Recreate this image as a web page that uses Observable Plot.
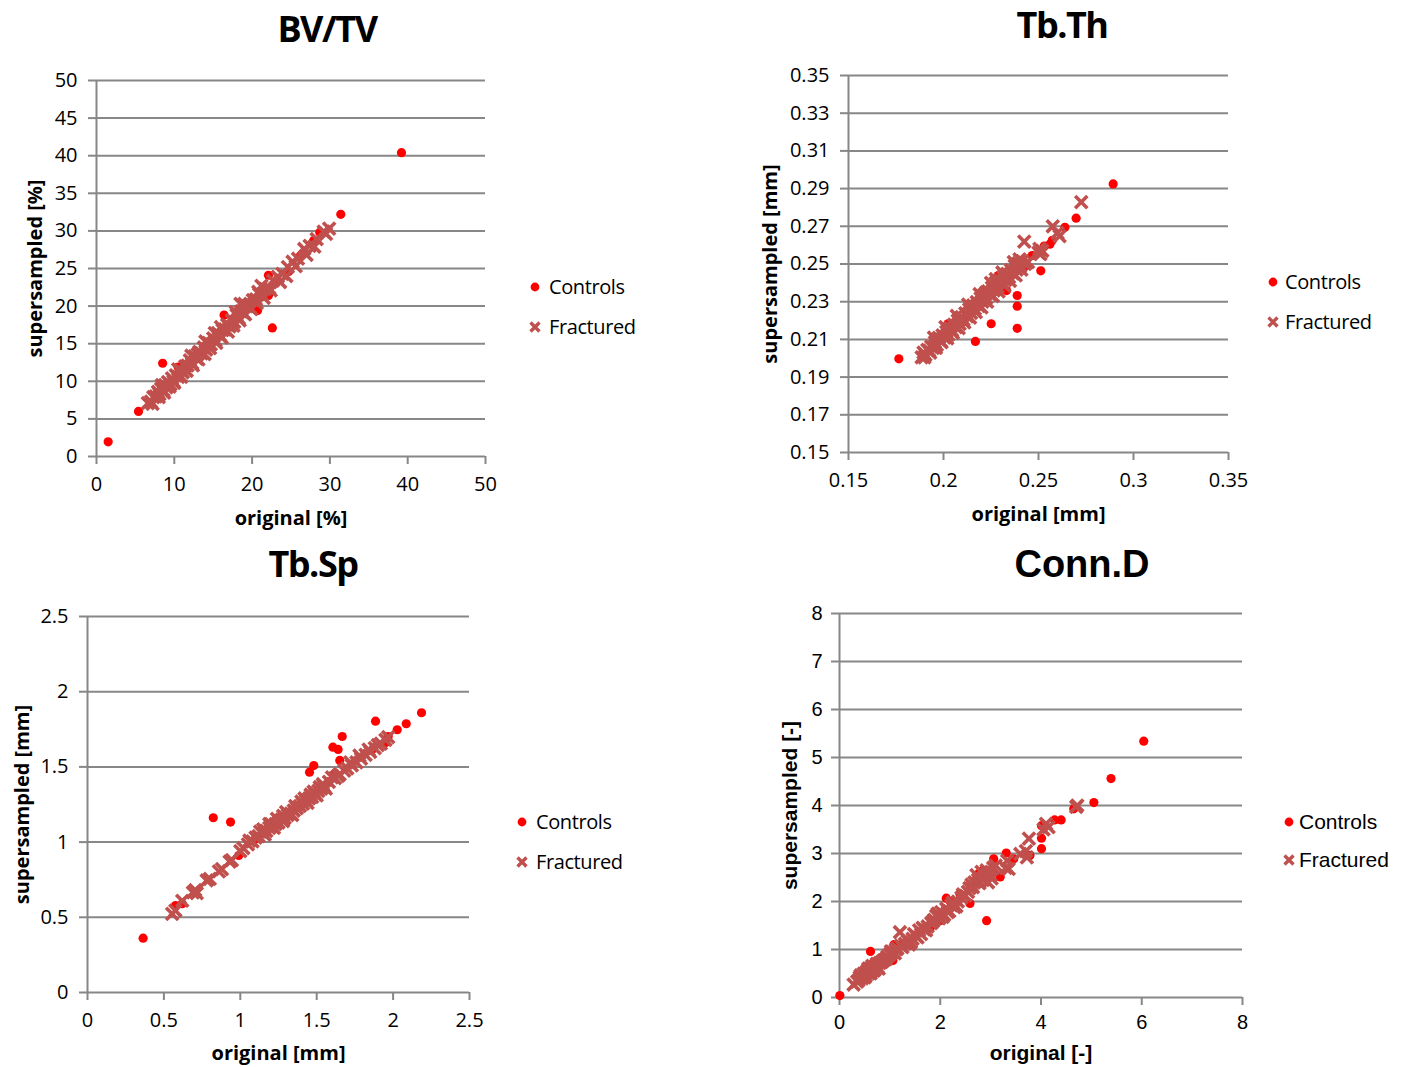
<!DOCTYPE html>
<html><head><meta charset="utf-8">
<script src="https://cdn.jsdelivr.net/npm/d3@7"></script>
<script src="https://cdn.jsdelivr.net/npm/@observablehq/plot@0.6"></script>
<style>
body{margin:0;background:#fff;}
#root{position:relative;width:1406px;height:1067px;overflow:hidden;background:#fff;}
.title{position:absolute;font-weight:bold;transform:translate(-50%,-50%);white-space:nowrap;color:#000;line-height:1.2;}
.leg{position:absolute;color:#000;white-space:nowrap;line-height:1.2;transform:translateY(-50%);}
.sym{position:absolute;overflow:visible;}
</style>
</head><body><div id="root"></div>
<script>
// ---------- BV/TV ----------
const bvtvXTicks=[0,10,20,30,40,50];
const bvtvYTicks=[0,5,10,15,20,25,30,35,40,45,50];
const bvtvControls=[[1.5,1.95],[39.2,40.4],[31.4,32.2],[5.4,6.0],[8.5,12.4],[10.5,11.9],[16.4,18.8],[20.7,19.4],[22.6,17.1],[22.1,24.1],[22.1,21.4],[23.1,23.2],[24.7,24.6],[27.9,28.7],[26.2,26.7],[28.7,29.8],[12.0,12.3],[14.6,15.2],[17.5,17.9],[19.8,20.2],[21.0,21.6],[26.5,27.0],[27.8,28.4],[11.0,11.3]];
const bvtvFractured=[[6.6,7.1],[7.0,7.3],[7.3,7.9],[7.6,8.0],[7.9,8.6],[8.1,8.3],[8.3,9.0],[8.6,8.8],[8.8,9.5],[9.0,9.2],[9.2,9.9],[9.5,9.6],[9.7,10.4],[9.9,10.0],[10.2,10.8],[10.5,10.6],[10.8,11.5],[11.1,11.2],[11.4,12.0],[11.7,12.1],[12.0,12.8],[12.3,12.4],[12.6,13.3],[12.9,13.0],[13.2,13.9],[13.5,13.7],[13.8,14.5],[14.1,14.2],[14.4,15.1],[14.7,14.9],[15.0,15.7],[15.3,15.4],[15.6,16.4],[15.9,16.1],[16.2,16.8],[16.5,16.9],[16.8,17.5],[17.1,17.3],[17.4,18.1],[17.7,17.9],[18.0,18.8],[18.3,18.4],[18.6,19.3],[18.9,19.1],[19.3,20.0],[19.7,19.8],[20.1,20.8],[20.5,20.9],[20.9,21.6],[21.3,21.5],[21.7,22.3],[22.2,22.4],[22.7,23.4],[23.3,23.9],[23.9,24.3],[24.6,25.2],[25.2,25.9],[25.9,26.3],[26.7,27.6],[27.4,28.0],[28.3,28.9],[29.2,29.9],[29.9,30.3],[15.2,16.4],[13.0,13.6],[18.5,20.3],
 [7.2,7.0],[8.0,7.9],[8.7,8.5],[9.4,9.3],[10.0,9.8],[10.9,10.6],[11.6,11.4],[12.4,12.1],[13.1,12.9],[13.9,13.6],[14.6,14.4],[15.4,15.1],[16.1,15.8],[16.9,16.6],[17.6,17.4],[18.4,18.1],[19.1,18.9],[19.9,19.6],[20.6,20.4],[21.5,21.1],[22.4,22.1],[23.6,23.2],[24.4,24.0],[25.6,25.3],[27.0,26.8],[28.0,27.9],[29.5,29.6],[8.4,9.5],[10.5,11.6],[12.2,13.4],[14.0,15.3],[16.0,17.2],[17.9,19.2],[19.0,20.3],[20.8,21.9],[21.2,22.7]];

// ---------- Tb.Th ----------
const tbthXTicks=[0.15,0.2,0.25,0.3,0.35];
const tbthYTicks=[0.15,0.17,0.19,0.21,0.23,0.25,0.27,0.29,0.31,0.33,0.35];
const tbthControls=[[0.1765,0.1997],[0.2893,0.2925],[0.2698,0.2743],[0.2639,0.2695],[0.2572,0.2625],[0.2560,0.2605],[0.2530,0.2595],[0.2467,0.2545],[0.2512,0.2464],[0.2388,0.2333],[0.2388,0.2276],[0.2388,0.2159],[0.2251,0.2183],[0.2168,0.2089],[0.2332,0.2359],[0.2437,0.2492],[0.2288,0.2439],[0.2023,0.2183],[0.2100,0.2190],[0.2200,0.2290],[0.2350,0.2440]];
const tbthFractured=[[0.1885,0.2005],[0.1895,0.2030],[0.1905,0.2018],[0.1915,0.2045],[0.1925,0.2040],[0.1935,0.2062],[0.1945,0.2055],[0.1955,0.2085],[0.1965,0.2070],[0.1975,0.2108],[0.1985,0.2092],[0.1995,0.2122],[0.2005,0.2110],[0.2015,0.2140],[0.2025,0.2125],[0.2035,0.2160],[0.2045,0.2148],[0.2055,0.2178],[0.2065,0.2165],[0.2075,0.2200],[0.2085,0.2182],[0.2095,0.2218],[0.2105,0.2205],[0.2115,0.2238],[0.2125,0.2222],[0.2135,0.2260],[0.2145,0.2240],[0.2155,0.2280],[0.2165,0.2262],[0.2175,0.2298],[0.2185,0.2278],[0.2195,0.2318],[0.2205,0.2300],[0.2215,0.2338],[0.2225,0.2320],[0.2235,0.2355],[0.2245,0.2338],[0.2255,0.2375],[0.2265,0.2360],[0.2275,0.2400],[0.2285,0.2378],[0.2295,0.2415],[0.2305,0.2398],[0.2315,0.2432],[0.2325,0.2415],[0.2335,0.2448],[0.2345,0.2430],[0.2355,0.2468],[0.2365,0.2450],[0.2375,0.2490],[0.2385,0.2470],[0.2395,0.2505],[0.2405,0.2490],[0.2415,0.2515],[0.2430,0.2500],[0.2445,0.2510],[0.2500,0.2560],[0.2510,0.2552],[0.2520,0.2570],[0.2505,0.2580],[0.2425,0.2619],[0.2575,0.2700],[0.2611,0.2648],[0.2600,0.2665],[0.2725,0.2828],[0.2275,0.2420],[0.2225,0.2350],
 [0.1900,0.2005],[0.1930,0.2030],[0.1960,0.2055],[0.1990,0.2085],[0.2020,0.2105],[0.2050,0.2135],[0.2080,0.2160],[0.2110,0.2190],[0.2140,0.2215],[0.2170,0.2245],[0.2200,0.2270],[0.2230,0.2300],[0.2260,0.2330],[0.2290,0.2355],[0.2320,0.2385],[0.2350,0.2410],[0.2380,0.2440],[0.2410,0.2470],[0.1950,0.2110],[0.2010,0.2165],[0.2070,0.2225],[0.2130,0.2285],[0.2190,0.2340],[0.2250,0.2400],[0.2310,0.2455],[0.2370,0.2510],[0.2400,0.2525]];

// ---------- Tb.Sp ----------
const tbspXTicks=[0,0.5,1,1.5,2,2.5];
const tbspYTicks=[0,0.5,1,1.5,2,2.5];
const tbspControls=[[0.364,0.361],[0.823,1.162],[0.936,1.133],[1.453,1.465],[1.481,1.509],[1.606,1.631],[1.640,1.616],[1.667,1.702],[1.651,1.543],[1.885,1.804],[2.027,1.747],[2.086,1.787],[2.186,1.860],[1.968,1.702],[0.576,0.578],[0.990,0.911],[1.579,1.40],[1.62,1.46],[1.95,1.66],[1.87,1.62],[1.32,1.20],[1.10,1.02],[0.62,0.59]];
const tbspFractured=[[0.554,0.523],[0.575,0.545],[0.620,0.610],[0.690,0.665],[0.705,0.680],[0.715,0.660],[0.780,0.745],[0.800,0.755],[0.860,0.805],[0.880,0.820],[0.930,0.870],[0.945,0.880],[1.000,0.940],[1.020,0.960],[1.050,0.985],[1.080,1.005],[1.100,1.030],[1.120,1.040],[1.150,1.060],[1.170,1.075],[1.190,1.095],[1.210,1.105],[1.230,1.120],[1.250,1.130],[1.270,1.150],[1.290,1.160],[1.310,1.180],[1.330,1.190],[1.350,1.210],[1.370,1.225],[1.390,1.240],[1.410,1.255],[1.430,1.275],[1.450,1.290],[1.470,1.300],[1.490,1.320],[1.510,1.340],[1.530,1.355],[1.550,1.370],[1.580,1.400],[1.620,1.425],[1.650,1.450],[1.680,1.475],[1.700,1.490],[1.730,1.510],[1.760,1.530],[1.790,1.555],[1.820,1.580],[1.850,1.600],[1.880,1.625],[1.920,1.655],[1.950,1.680],[1.968,1.698],[1.200,1.120],[1.280,1.175],[1.400,1.270],[1.460,1.315],[1.520,1.365],[1.150,1.085],
 [1.060,1.010],[1.130,1.070],[1.190,1.120],[1.240,1.155],[1.300,1.200],[1.360,1.240],[1.420,1.290],[1.480,1.335],[1.540,1.385],[1.600,1.430],[1.720,1.530],[1.780,1.575],[1.840,1.615],[1.900,1.645],[1.160,1.050],[1.220,1.095],[1.280,1.140],[1.340,1.180],[1.440,1.260],[1.500,1.310],[1.560,1.355],[1.640,1.440]];

// ---------- Conn.D ----------
const conndXTicks=[0,2,4,6,8];
const conndYTicks=[0,1,2,3,4,5,6,7,8];
const conndControls=[[0.007,0.04],[6.04,5.34],[5.39,4.56],[5.05,4.06],[4.65,3.93],[4.40,3.70],[4.27,3.70],[4.01,3.32],[4.01,3.10],[4.01,3.58],[2.92,1.60],[0.615,0.96],[1.08,1.10],[1.06,0.77],[3.31,3.01],[3.06,2.89],[2.76,2.58],[2.59,1.96],[2.39,2.16],[2.12,2.07],[3.19,2.51],[3.46,2.89],[3.78,2.96],[1.80,1.45],[1.50,1.30],[2.30,1.95],[0.50,0.45],[0.70,0.62],[2.0,1.60],[2.6,2.3],[2.2,2.0],[2.85,2.65],[1.25,1.12]];
const conndFractured=[[0.28,0.27],[0.35,0.33],[0.40,0.42],[0.45,0.40],[0.48,0.50],[0.52,0.45],[0.55,0.55],[0.58,0.50],[0.60,0.60],[0.63,0.55],[0.66,0.62],[0.70,0.58],[0.72,0.66],[0.76,0.63],[0.80,0.72],[0.88,0.78],[0.95,0.85],[1.00,0.90],[1.05,0.95],[1.10,0.92],[1.15,1.02],[1.20,1.36],[1.25,1.05],[1.30,1.12],[1.38,1.10],[1.45,1.22],[1.52,1.28],[1.58,1.40],[1.62,1.32],[1.68,1.42],[1.75,1.48],[1.82,1.55],[1.88,1.62],[1.92,1.70],[1.98,1.65],[2.02,1.78],[2.08,1.72],[2.12,1.85],[2.18,1.80],[2.22,1.92],[2.28,1.88],[2.35,2.00],[2.42,2.08],[2.50,2.12],[2.58,2.28],[2.62,2.35],[2.68,2.40],[2.75,2.45],[2.82,2.62],[2.88,2.52],[2.95,2.40],[3.00,2.55],[3.05,2.70],[3.33,2.85],[3.36,2.68],[3.59,2.99],[3.72,2.92],[3.76,3.31],[3.70,3.05],[4.10,3.62],[4.05,3.50],[4.15,3.55],[4.72,4.0],[4.70,3.97],
 [0.38,0.36],[0.42,0.46],[0.50,0.42],[0.53,0.52],[0.57,0.60],[0.62,0.50],[0.65,0.66],[0.68,0.56],[0.74,0.70],[0.78,0.60],[0.84,0.74],[0.92,0.80],[1.02,0.96],[1.12,1.00],[1.22,1.08],[1.35,1.18],[1.42,1.15],[1.48,1.32],[1.55,1.25],[1.65,1.45],[1.72,1.40],[1.85,1.58],[1.95,1.75],[2.05,1.68],[2.15,1.78],[2.25,1.98],[2.32,1.90],[2.45,2.15],[2.55,2.20],[2.65,2.30],[2.72,2.55],[2.78,2.38],[2.85,2.45],[2.92,2.65],[3.02,2.48],[3.10,2.75],[3.30,2.70]];

const legendLabels=["Controls","Fractured"];

const RED="#ff0000", FRAC="#c0504d", GRID="#878787";
const SEGOE="'Open Sans', 'Noto Sans', sans-serif";
const ARIAL="'Liberation Sans', Arial, sans-serif";

const panels=[
 {title:"BV/TV",tx:327,ty:29,box:[96,485,80,456],xd:[0,50],yd:[0,50],xt:bvtvXTicks,yt:bvtvYTicks,xl:"original [%]",yl:"supersampled [%]",ylOff:61,xlOff:62,c:bvtvControls,f:bvtvFractured,leg:[535,549,287,327],font:SEGOE,arial:false},
 {title:"Tb.Th",tx:1062,ty:25,box:[848,1228,75,452],xd:[0.15,0.35],yd:[0.15,0.35],xt:tbthXTicks,yt:tbthYTicks,xl:"original [mm]",yl:"supersampled [mm]",ylOff:78,xlOff:62,c:tbthControls,f:tbthFractured,leg:[1273,1285,282,322],font:SEGOE,arial:false},
 {title:"Tb.Sp",tx:313,ty:564,box:[87,469,616,992],xd:[0,2.5],yd:[0,2.5],xt:tbspXTicks,yt:tbspYTicks,xl:"original [mm]",yl:"supersampled [mm]",ylOff:65,xlOff:61,c:tbspControls,f:tbspFractured,leg:[522,536,822,862],font:SEGOE,arial:false},
 {title:"Conn.D",tx:1082,ty:565,box:[839,1242,613,997],xd:[0,8],yd:[0,8],xt:conndXTicks,yt:conndYTicks,xl:"original [-]",yl:"supersampled [-]",ylOff:49,xlOff:56,c:conndControls,f:conndFractured,leg:[1289,1299,822,860],font:ARIAL,arial:true}
];

const root=document.getElementById("root");
const ML=100,MR=20,MT=20,MB=80;

for(const p of panels){
 const [L,R,T,B]=p.box;
 const tickFs=20;
 const svg=Plot.plot({
  width:ML+(R-L)+MR, height:MT+(B-T)+MB,
  marginLeft:ML, marginRight:MR, marginTop:MT, marginBottom:MB,
  style:{fontFamily:p.font,fontSize:tickFs+"px",color:"#000",background:"transparent",overflow:"visible"},
  x:{domain:p.xd}, y:{domain:p.yd},
  marks:[
   Plot.gridY(p.yt,{stroke:GRID,strokeWidth:2,strokeOpacity:1}),
   Plot.ruleX([p.xd[0]],{stroke:GRID,strokeWidth:2}),
   Plot.axisY(p.yt,{tickSize:8,tickPadding:p.arial?9:11,stroke:GRID,strokeWidth:2,strokeOpacity:1,tickFormat:d=>String(d),label:null,fontSize:tickFs}),
   Plot.axisX(p.xt,{tickSize:8,tickPadding:p.arial?9:12,stroke:GRID,strokeWidth:2,strokeOpacity:1,tickFormat:d=>String(d),label:null,fontSize:tickFs}),
   Plot.text([p.yl],{frameAnchor:"left",rotate:-90,dx:-p.ylOff,fontWeight:"bold",fontSize:p.arial?21:20,textAnchor:"middle",lineAnchor:"middle",letterSpacing:p.arial?"0px":"-1px"}),
   Plot.text([p.xl],{frameAnchor:"bottom",dy:p.xlOff,fontWeight:"bold",fontSize:p.arial?21:20,textAnchor:"middle",lineAnchor:"middle",letterSpacing:p.arial?"0px":"-1px"}),
   Plot.dot(p.c,{x:d=>d[0],y:d=>d[1],r:4.6,fill:RED}),
   Plot.dot(p.f,{x:d=>d[0],y:d=>d[1],symbol:"times",r:5.6,stroke:FRAC,strokeWidth:3.6})
  ]
 });
 svg.style.position="absolute";
 svg.style.left=(L-ML)+"px";
 svg.style.top=(T-MT)+"px";
 root.appendChild(svg);

 const t=document.createElement("div");
 t.className="title"; t.textContent=p.title;
 t.style.left=p.tx+"px"; t.style.top=p.ty+"px";
 t.style.fontFamily=p.font; t.style.fontSize=p.arial?"38px":"36px";
 t.style.letterSpacing=p.arial?"0px":"-1.5px";
 root.appendChild(t);

 const [sx,lx,y1,y2]=p.leg;
 [y1,y2].forEach((yy,i)=>{
  const s=document.createElementNS("http://www.w3.org/2000/svg","svg");
  s.setAttribute("class","sym");
  s.setAttribute("width","14"); s.setAttribute("height","14");
  s.style.left=(sx-7)+"px"; s.style.top=(yy-7)+"px";
  s.innerHTML = i===0 ? `<circle cx="7" cy="7" r="4.4" fill="${RED}"/>` :
   `<path d="M2.5,2.5L11.5,11.5M11.5,2.5L2.5,11.5" stroke="${FRAC}" stroke-width="3.3"/>`;
  root.appendChild(s);
  const d=document.createElement("div");
  d.className="leg"; d.textContent=legendLabels[i];
  d.style.left=lx+"px"; d.style.top=yy+"px"; d.style.fontFamily=p.font;
  d.style.fontSize=p.arial?"21px":"20px";
  d.style.letterSpacing=p.arial?"0px":"-0.4px";
  root.appendChild(d);
 });
}
</script></body></html>
